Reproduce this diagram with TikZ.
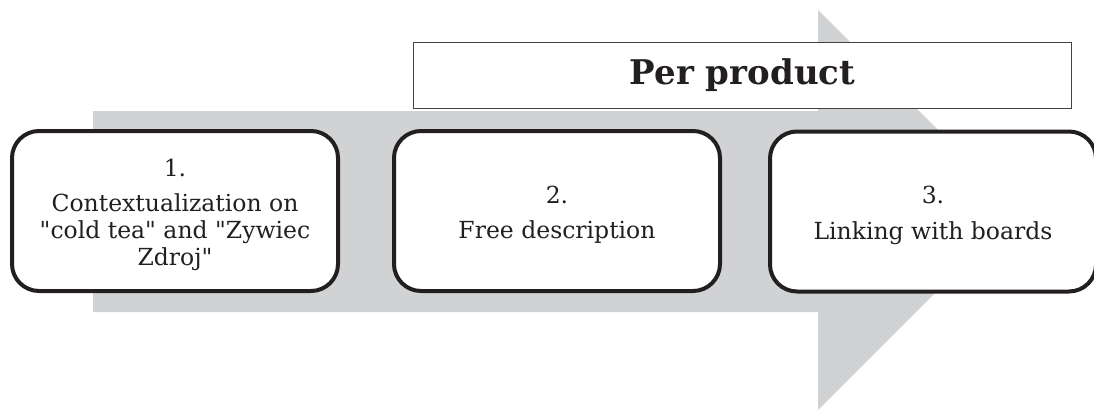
\documentclass[tikz,border=0pt]{standalone}
\usepackage{fontspec}
\setmainfont{DejaVu Serif}[Ligatures=TeXOff]
\definecolor{arrowgray}{HTML}{D1D2D4}
\definecolor{ink}{HTML}{231F20}
\newcommand{\numstrut}{\rule{0pt}{25pt}}
\begin{document}
\begin{tikzpicture}[x=1pt,y=-1pt,
  stepbox/.style={draw=ink, line width=4pt, fill=white, rounded corners=27pt,
    minimum width=326pt, minimum height=160pt, align=center, text=ink,
    font=\fontsize{23.5}{26.8}\selectfont, inner sep=0pt},
  headbox/.style={draw=ink!85, line width=1.2pt, fill=white,
    minimum width=658pt, minimum height=66pt, text=ink,
    font=\fontsize{34}{38}\selectfont\bfseries, inner sep=0pt}]
\useasboundingbox (0,0) rectangle (1094,410);
\fill[arrowgray] (93,111) -- (818,111) -- (818,10) -- (1018,210) -- (818,410) -- (818,312) -- (93,312) -- cycle;
\node[headbox] (head) at (742.5,75.5) {Per product};
\node[stepbox] (s1) at (175,211) {\numstrut1.\\[9pt]Contextualization on\\"cold tea" and "Zywiec\\Zdroj"};
\node[stepbox] (s2) at (557,211) {\numstrut2.\\[9pt]Free description};
\node[stepbox] (s3) at (933,211.5) {\numstrut3.\\[9pt]Linking with boards};
\end{tikzpicture}
\end{document}
